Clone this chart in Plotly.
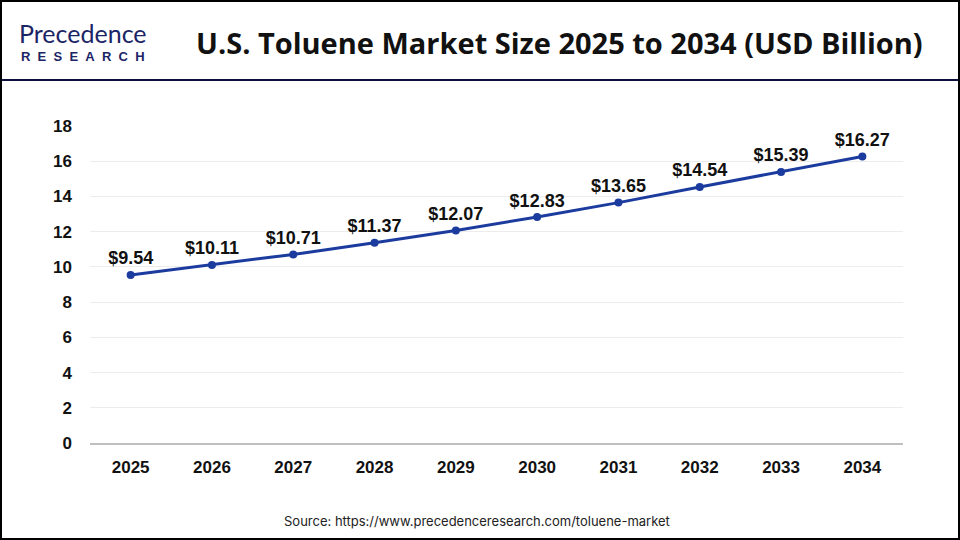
import plotly.graph_objects as go

years = ["2025", "2026", "2027", "2028", "2029", "2030", "2031", "2032", "2033", "2034"]
values = [9.54, 10.11, 10.71, 11.37, 12.07, 12.83, 13.65, 14.54, 15.39, 16.27]
labels = ["$" + f"{v:.2f}" for v in values]
y_ticks = [0, 2, 4, 6, 8, 10, 12, 14, 16, 18]

line_color = "#1b3c9e"
PW, PH = 813, 317  # plot area size in px

def px_x(x):
    return (x - 90) / PW

def px_y(y):
    return (443 - y) / PH

fig = go.Figure()
fig.add_trace(go.Scatter(
    x=years, y=values, mode="lines+markers+text",
    line=dict(color=line_color, width=3),
    marker=dict(color=line_color, size=8),
    text=labels, textposition="top center",
    textfont=dict(family="Liberation Sans, Arial", size=18, color="#111111", weight="bold"),
    cliponaxis=False, hoverinfo="skip",
))

fig.update_layout(
    width=960, height=540,
    paper_bgcolor="white", plot_bgcolor="white",
    margin=dict(l=90, r=57, t=126, b=97),
    showlegend=False,
    xaxis=dict(type="category", range=[-0.5, 9.5], showgrid=False,
               showline=True, linecolor="#bfbfbf", linewidth=2,
               ticks="", tickfont=dict(family="Liberation Sans, Arial", size=17, color="#111111", weight="bold"),
               ticklabelstandoff=8),
    yaxis=dict(range=[0, 18], tickvals=y_ticks, showgrid=True, gridcolor="#ececec", gridwidth=1,
               zeroline=False, showline=False, ticks="",
               tickfont=dict(family="Liberation Sans, Arial", size=17, color="#111111", weight="bold"),
               ticklabelstandoff=17),
    shapes=[
        dict(type="line", xref="paper", yref="paper", x0=px_x(0), x1=px_x(960),
             y0=px_y(80), y1=px_y(80), line=dict(color="#0b0f3d", width=2)),
        dict(type="rect", xref="paper", yref="paper", x0=px_x(1), x1=px_x(959),
             y0=px_y(539), y1=px_y(1), line=dict(color="black", width=2)),
    ],
    annotations=[
        dict(text="<b>U.S. Toluene Market Size 2025 to 2034 (USD Billion)</b>",
             xref="paper", yref="paper", x=px_x(559), y=px_y(42),
             xanchor="center", yanchor="middle", showarrow=False,
             font=dict(family="Open Sans, Liberation Sans", size=29, color="#111111")),
        dict(text="Precedence", xref="paper", yref="paper", x=px_x(17), y=px_y(33),
             xanchor="left", yanchor="middle", showarrow=False,
             font=dict(family="Lato, Noto Sans", size=25, color="#1b2566")),
        dict(text="&nbsp;&nbsp;".join("RESEARCH"), xref="paper", yref="paper", x=px_x(19), y=px_y(56),
             xanchor="left", yanchor="middle", showarrow=False,
             font=dict(family="Liberation Sans, Arial", size=13, color="#1b2566", weight="bold")),
        dict(text="Source: https://www.precedenceresearch.com/toluene-market",
             xref="paper", yref="paper", x=px_x(477), y=px_y(521),
             xanchor="center", yanchor="middle", showarrow=False,
             font=dict(family="Inter, Liberation Sans", size=13, color="#222222")),
    ],
)

fig.write_html("out.html", config={"displayModeBar": False},
               post_script="document.body.style.margin='0px';document.body.style.overflow='hidden';")
